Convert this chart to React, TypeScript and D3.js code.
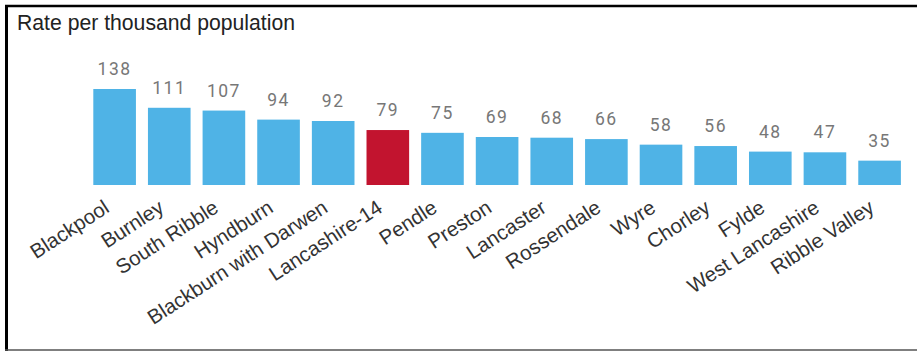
import React from "react";
import * as d3 from "d3";

const categories = [
  "Blackpool", "Burnley", "South Ribble", "Hyndburn", "Blackburn with Darwen",
  "Lancashire-14", "Pendle", "Preston", "Lancaster", "Rossendale",
  "Wyre", "Chorley", "Fylde", "West Lancashire", "Ribble Valley",
];
const values = [138, 111, 107, 94, 92, 79, 75, 69, 68, 66, 58, 56, 48, 47, 35];
const highlight = ["Lancashire-14"];
const title = "Rate per thousand population";

const W = 917;
const H = 351;
const BLUE = "#4fb3e6";
const RED = "#c2142f";

export default function App() {
  const x = d3
    .scaleBand<string>()
    .domain(categories)
    .range([87.3, 906.9])
    .paddingInner(0.22)
    .paddingOuter(0.11);
  const y = d3
    .scaleLinear()
    .domain([0, d3.max(values) as number])
    .range([185, 89]);

  return (
    <svg
      width={W}
      height={H}
      style={{ position: "absolute", left: 0, top: 0, background: "#fff" }}
    >
      <rect x={0} y={0} width={W} height={H} fill="#fff" />
      {/* frame */}
      <line x1={5} y1={6} x2={W} y2={6} stroke="#000" strokeWidth={2.5} />
      <line x1={6.5} y1={5} x2={6.5} y2={351} stroke="#000" strokeWidth={3} />
      <line x1={5} y1={350} x2={W} y2={350} stroke="#555" strokeWidth={1.5} />
      <text
        x={17}
        y={30}
        fontFamily="'Liberation Sans', Arial, sans-serif"
        fontSize={21.2}
        fill="#222"
      >
        {title}
      </text>
      {categories.map((c, i) => {
        const bx = x(c) as number;
        const bw = x.bandwidth();
        const cx = bx + bw / 2;
        const v = values[i];
        return (
          <g key={c}>
            <rect
              x={bx}
              y={y(v)}
              width={bw}
              height={y(0) - y(v)}
              fill={highlight.includes(c) ? RED : BLUE}
            />
            <text
              x={cx}
              y={y(v) - 14}
              textAnchor="middle"
              fontFamily="Roboto, sans-serif"
              fontSize={17.5}
              letterSpacing={1.5}
              fill="#777"
            >
              {v}
            </text>
            <text
              transform={`translate(${cx - 4},${211}) rotate(-33)`}
              textAnchor="end"
              fontFamily="'Liberation Sans', Arial, sans-serif"
              fontSize={20.5}
              fill="#333"
            >
              {c}
            </text>
          </g>
        );
      })}
    </svg>
  );
}
